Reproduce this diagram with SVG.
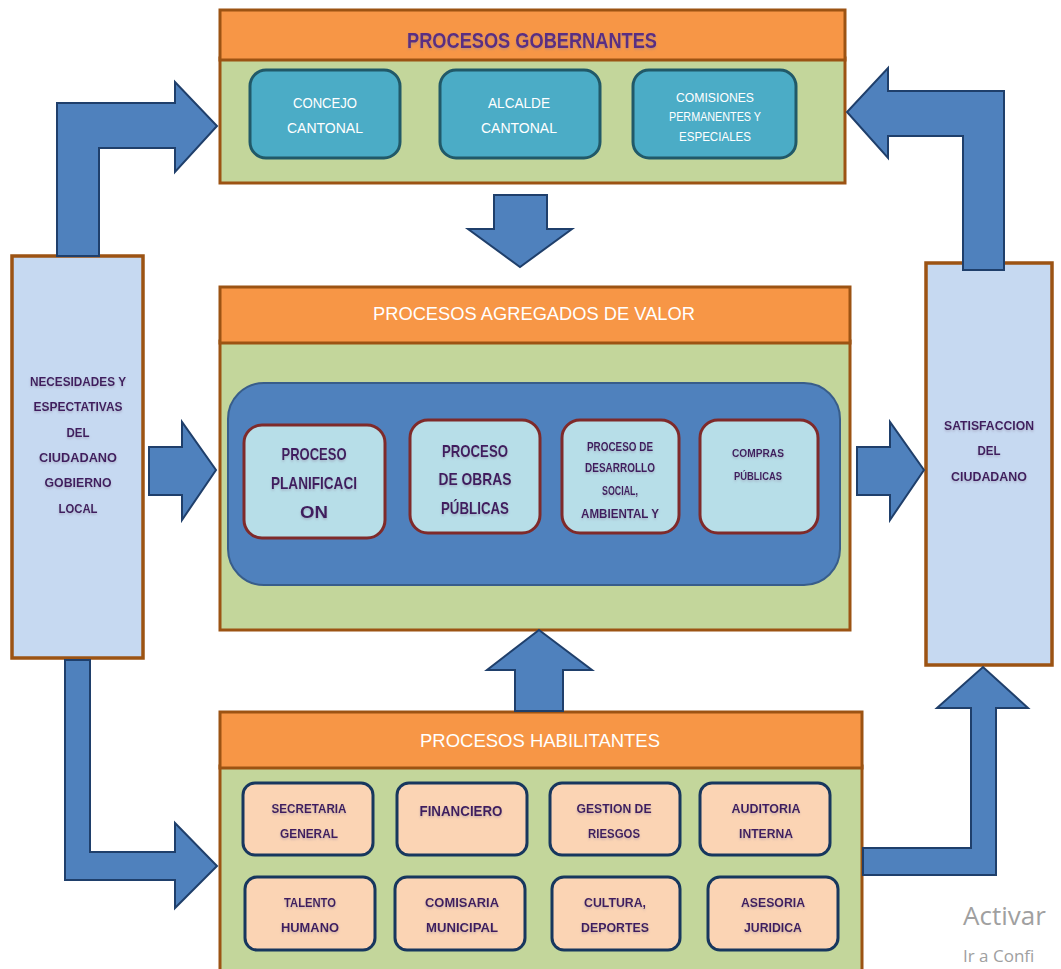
<svg xmlns="http://www.w3.org/2000/svg" width="1061" height="969" viewBox="0 0 1061 969">
<style>
.hdr{fill:#F79646;stroke:#9C5313;stroke-width:3}
.body{fill:#C3D69B;stroke:#9C5313;stroke-width:3}
.side{fill:#C6D9F1;stroke:#9C5313;stroke-width:3.5}
.teal{fill:#4BACC6;stroke:#215968;stroke-width:3}
.core{fill:#4F81BD;stroke:#385D8A;stroke-width:2}
.cyan{fill:#B7DEE8;stroke:#7F2A2A;stroke-width:3}
.peach{fill:#FBD4B4;stroke:#17375E;stroke-width:3}
.arrow{fill:#4F81BD;stroke:#1F3F6B;stroke-width:2;stroke-linejoin:miter}
text{font-family:"Liberation Sans",Arial,sans-serif;text-anchor:middle}
.wt{fill:#FFFFFF}
.pt{fill:#3F1F5F;font-weight:bold;filter:url(#glow)}
.wm{fill:#A0A0A0;text-anchor:start;font-family:"Open Sans","Liberation Sans",sans-serif}
</style>
<defs>
<filter id="glow" x="-10%" y="-30%" width="120%" height="160%">
<feDropShadow dx="0" dy="1.5" stdDeviation="1" flood-color="#8A7A9A" flood-opacity="0.45"/>
</filter>
</defs>
<rect width="1061" height="969" fill="#FFFFFF"/>

<g id="procesos-gobernantes">
<rect class="body" x="220" y="58" width="625" height="125"/>
<rect class="hdr" x="220" y="10" width="625" height="50"/>
<text class="pt" x="532" y="48" font-size="22" textLength="250" lengthAdjust="spacingAndGlyphs" style="fill:#5A2D82">PROCESOS GOBERNANTES</text>
</g>
<g id="concejo-cantonal">
<rect class="teal" x="250" y="70" width="150" height="88" rx="16"/>
<text class="wt" x="325" y="108" font-size="15" textLength="64" lengthAdjust="spacingAndGlyphs">CONCEJO</text>
<text class="wt" x="325" y="133" font-size="15" textLength="76" lengthAdjust="spacingAndGlyphs">CANTONAL</text>
</g>
<g id="alcalde-cantonal">
<rect class="teal" x="440" y="70" width="160" height="88" rx="16"/>
<text class="wt" x="519" y="108" font-size="15" textLength="62" lengthAdjust="spacingAndGlyphs">ALCALDE</text>
<text class="wt" x="519" y="133" font-size="15" textLength="76" lengthAdjust="spacingAndGlyphs">CANTONAL</text>
</g>
<g id="comisiones">
<rect class="teal" x="633" y="70" width="163" height="88" rx="16"/>
<text class="wt" x="715" y="102" font-size="13" textLength="78" lengthAdjust="spacingAndGlyphs">COMISIONES</text>
<text class="wt" x="715" y="121" font-size="13" textLength="92" lengthAdjust="spacingAndGlyphs">PERMANENTES Y</text>
<text class="wt" x="715" y="141" font-size="13" textLength="72" lengthAdjust="spacingAndGlyphs">ESPECIALES</text>
</g>

<g id="procesos-agregados">
<rect class="body" x="220" y="341" width="630" height="289"/>
<rect class="hdr" x="220" y="287" width="630" height="56"/>
<text class="wt" x="534" y="320" font-size="19" textLength="322" lengthAdjust="spacingAndGlyphs">PROCESOS AGREGADOS DE VALOR</text>
<rect class="core" x="228" y="383" width="612" height="202" rx="36"/>
</g>
<g id="proceso-planificacion">
<rect class="cyan" x="244" y="425" width="141" height="113" rx="18"/>
<text class="pt" x="314" y="460" font-size="17" textLength="65" lengthAdjust="spacingAndGlyphs">PROCESO</text>
<text class="pt" x="314" y="489" font-size="17" textLength="86" lengthAdjust="spacingAndGlyphs">PLANIFICACI</text>
<text class="pt" x="314" y="518" font-size="17" textLength="28" lengthAdjust="spacingAndGlyphs">ON</text>
</g>
<g id="proceso-obras">
<rect class="cyan" x="410" y="420" width="130" height="113" rx="18"/>
<text class="pt" x="475" y="457" font-size="17" textLength="66" lengthAdjust="spacingAndGlyphs">PROCESO</text>
<text class="pt" x="475" y="485" font-size="17" textLength="73" lengthAdjust="spacingAndGlyphs">DE OBRAS</text>
<text class="pt" x="475" y="514" font-size="17" textLength="68" lengthAdjust="spacingAndGlyphs">PÚBLICAS</text>
</g>
<g id="proceso-desarrollo">
<rect class="cyan" x="562" y="420" width="117" height="113" rx="18"/>
<text class="pt" x="620" y="451" font-size="12" textLength="66" lengthAdjust="spacingAndGlyphs">PROCESO DE</text>
<text class="pt" x="620" y="472" font-size="12" textLength="70" lengthAdjust="spacingAndGlyphs">DESARROLLO</text>
<text class="pt" x="620" y="495" font-size="12" textLength="36" lengthAdjust="spacingAndGlyphs">SOCIAL,</text>
<text class="pt" x="620" y="518" font-size="12" textLength="78" lengthAdjust="spacingAndGlyphs">AMBIENTAL Y</text>
</g>
<g id="compras-publicas">
<rect class="cyan" x="700" y="420" width="118" height="113" rx="18"/>
<text class="pt" x="758" y="457" font-size="11" textLength="52" lengthAdjust="spacingAndGlyphs">COMPRAS</text>
<text class="pt" x="758" y="480" font-size="11" textLength="48" lengthAdjust="spacingAndGlyphs">PÚBLICAS</text>
</g>

<g id="procesos-habilitantes">
<rect class="body" x="220" y="766" width="642" height="210"/>
<rect class="hdr" x="220" y="712" width="642" height="56"/>
<text class="wt" x="540" y="747" font-size="19" textLength="240" lengthAdjust="spacingAndGlyphs">PROCESOS HABILITANTES</text>
</g>
<g id="secretaria-general">
<rect class="peach" x="243" y="783" width="130" height="72" rx="12"/>
<text class="pt" x="309" y="813" font-size="13" textLength="75" lengthAdjust="spacingAndGlyphs">SECRETARIA</text>
<text class="pt" x="309" y="838" font-size="13" textLength="58" lengthAdjust="spacingAndGlyphs">GENERAL</text>
</g>
<g id="financiero">
<rect class="peach" x="397" y="783" width="130" height="72" rx="12"/>
<text class="pt" x="461" y="816" font-size="15" textLength="83" lengthAdjust="spacingAndGlyphs">FINANCIERO</text>
</g>
<g id="gestion-riesgos">
<rect class="peach" x="550" y="783" width="130" height="72" rx="12"/>
<text class="pt" x="614" y="813" font-size="13" textLength="75" lengthAdjust="spacingAndGlyphs">GESTION DE</text>
<text class="pt" x="614" y="838" font-size="13" textLength="52" lengthAdjust="spacingAndGlyphs">RIESGOS</text>
</g>
<g id="auditoria-interna">
<rect class="peach" x="700" y="783" width="130" height="72" rx="12"/>
<text class="pt" x="766" y="813" font-size="13" textLength="69" lengthAdjust="spacingAndGlyphs">AUDITORIA</text>
<text class="pt" x="766" y="838" font-size="13" textLength="54" lengthAdjust="spacingAndGlyphs">INTERNA</text>
</g>
<g id="talento-humano">
<rect class="peach" x="245" y="877" width="130" height="73" rx="12"/>
<text class="pt" x="310" y="907" font-size="13" textLength="52" lengthAdjust="spacingAndGlyphs">TALENTO</text>
<text class="pt" x="310" y="932" font-size="13" textLength="58" lengthAdjust="spacingAndGlyphs">HUMANO</text>
</g>
<g id="comisaria-municipal">
<rect class="peach" x="395" y="877" width="130" height="73" rx="12"/>
<text class="pt" x="462" y="907" font-size="13" textLength="74" lengthAdjust="spacingAndGlyphs">COMISARIA</text>
<text class="pt" x="462" y="932" font-size="13" textLength="72" lengthAdjust="spacingAndGlyphs">MUNICIPAL</text>
</g>
<g id="cultura-deportes">
<rect class="peach" x="552" y="877" width="128" height="73" rx="12"/>
<text class="pt" x="615" y="907" font-size="13" textLength="62" lengthAdjust="spacingAndGlyphs">CULTURA,</text>
<text class="pt" x="615" y="932" font-size="13" textLength="68" lengthAdjust="spacingAndGlyphs">DEPORTES</text>
</g>
<g id="asesoria-juridica">
<rect class="peach" x="708" y="877" width="130" height="73" rx="12"/>
<text class="pt" x="773" y="907" font-size="13" textLength="64" lengthAdjust="spacingAndGlyphs">ASESORIA</text>
<text class="pt" x="773" y="932" font-size="13" textLength="58" lengthAdjust="spacingAndGlyphs">JURIDICA</text>
</g>

<g id="necesidades-ciudadano">
<rect class="side" x="12" y="256" width="131" height="402"/>
<text class="pt" x="78" y="386" font-size="13" textLength="96" lengthAdjust="spacingAndGlyphs">NECESIDADES Y</text>
<text class="pt" x="78" y="411" font-size="13" textLength="89" lengthAdjust="spacingAndGlyphs">ESPECTATIVAS</text>
<text class="pt" x="78" y="437" font-size="13" textLength="23" lengthAdjust="spacingAndGlyphs">DEL</text>
<text class="pt" x="78" y="462" font-size="13" textLength="78" lengthAdjust="spacingAndGlyphs">CIUDADANO</text>
<text class="pt" x="78" y="487" font-size="13" textLength="67" lengthAdjust="spacingAndGlyphs">GOBIERNO</text>
<text class="pt" x="78" y="513" font-size="13" textLength="39" lengthAdjust="spacingAndGlyphs">LOCAL</text>
</g>
<g id="satisfaccion-ciudadano">
<rect class="side" x="926" y="263" width="126" height="402"/>
<text class="pt" x="989" y="430" font-size="12" textLength="90" lengthAdjust="spacingAndGlyphs">SATISFACCION</text>
<text class="pt" x="989" y="455" font-size="12" textLength="23" lengthAdjust="spacingAndGlyphs">DEL</text>
<text class="pt" x="989" y="481" font-size="12" textLength="76" lengthAdjust="spacingAndGlyphs">CIUDADANO</text>
</g>

<g id="connectors">
<polygon class="arrow" points="57,256 57,103 175,103 175,82 217,126 175,172 175,148 99,148 99,256"/>
<polygon class="arrow" points="1004,270 1004,91 888,91 888,68 847,112 888,158 888,136 963,136 963,270"/>
<polygon class="arrow" points="494,195 547,195 547,229 572,229 520,267 468,229 494,229"/>
<polygon class="arrow" points="149,447 182,447 182,422 216,470 182,520 182,495 149,495"/>
<polygon class="arrow" points="857,447 890,447 890,422 924,470 890,520 890,495 857,495"/>
<polygon class="arrow" points="539,630 592,670 563,670 563,711 515,711 515,670 487,670"/>
<polygon class="arrow" points="65,660 90,660 90,852 175,852 175,823 217,866 175,908 175,880 65,880"/>
<polygon class="arrow" points="863,848 971,848 971,708 937,708 983,667 1028,708 996,708 996,875 863,875"/>
</g>

<text class="wm" x="963" y="925" font-size="26">Activar</text>
<text class="wm" x="963" y="962" font-size="17">Ir a Confi</text>
</svg>
